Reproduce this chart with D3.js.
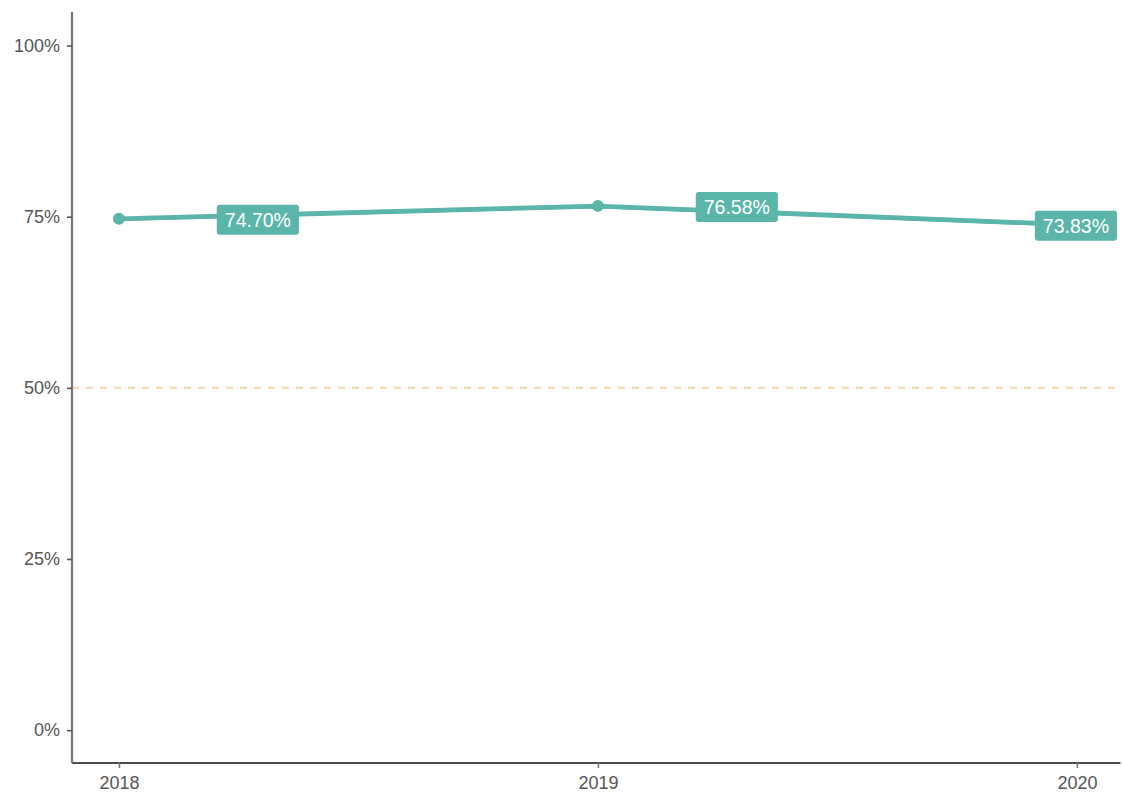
<!DOCTYPE html>
<html>
<head>
  <meta charset="utf-8">
  <title>Line chart</title>
  <script src="https://cdn.jsdelivr.net/npm/d3@7/dist/d3.min.js"></script>
  <style>
    body { margin: 0; background: #fff; }
    svg { display: block; font-family: "Liberation Sans", Arial, sans-serif; }
  </style>
</head>
<body>
  <svg width="1122" height="796"></svg>

  <script>
    // data
    const years = [2018, 2019, 2020];
    const rates = [0.7470, 0.7658, 0.7383];
    const yTicks = [0, 0.25, 0.5, 0.75, 1];
    const refLine = 0.5;

    const svg = d3.select("svg");
    const margin = { top: 12, right: 2, bottom: 33, left: 72 };
    const width = +svg.attr("width") - margin.left - margin.right;
    const height = +svg.attr("height") - margin.top - margin.bottom;
    const teal = "#5BB5A9";

    const g = svg.append("g")
      .attr("transform", `translate(${margin.left},${margin.top})`);

    const x = d3.scaleLinear()
      .domain([2017.902, 2020.090])
      .range([0, width]);

    const y = d3.scaleLinear()
      .domain([-0.048, 1.049])
      .range([height, 0]);

    const data = years.map((yr, i) => ({ year: yr, value: rates[i] }));

    // reference line at 50%
    g.append("line")
      .attr("x1", 0).attr("x2", width)
      .attr("y1", y(refLine)).attr("y2", y(refLine))
      .attr("stroke", "#EFD9A9")
      .attr("stroke-width", 2)
      .attr("stroke-dasharray", "7,7");

    // main line
    const line = d3.line()
      .x(d => x(d.year))
      .y(d => y(d.value));

    g.append("path")
      .datum(data)
      .attr("fill", "none")
      .attr("stroke", teal)
      .attr("stroke-width", 4.5)
      .attr("d", line);

    g.append("path")
      .datum(data)
      .attr("fill", "none")
      .attr("stroke", teal)
      .attr("stroke-width", 1.5)
      .attr("transform", "translate(0,1.8)")
      .attr("d", line);

    g.selectAll("circle.pt")
      .data(data)
      .enter().append("circle")
      .attr("class", "pt")
      .attr("cx", d => x(d.year))
      .attr("cy", d => y(d.value))
      .attr("r", 6)
      .attr("fill", teal);

    // labels, nudged right and kept inside the panel
    const fmt = d3.format(".2%");
    const nudge = 0.29;
    const labels = g.selectAll("g.lab")
      .data(data)
      .enter().append("g")
      .attr("class", "lab");

    labels.each(function (d) {
      const lg = d3.select(this);
      const txt = lg.append("text")
        .text(fmt(d.value))
        .attr("font-size", 19.5)
        .attr("fill", "#fff")
        .attr("text-anchor", "middle")
        .attr("dy", "0.36em");
      const w = txt.node().getComputedTextLength() + 16;
      const h = 30;
      let cx = x(d.year + nudge);
      cx = Math.min(cx, width - 3 - w / 2);
      const cy = y(d.value) + 1;
      lg.attr("transform", `translate(${cx},${cy})`);
      lg.insert("rect", "text")
        .attr("x", -w / 2).attr("y", -h / 2)
        .attr("width", w).attr("height", h)
        .attr("rx", 3)
        .attr("fill", teal);
    });

    // axes
    const xAxis = d3.axisBottom(x)
      .tickValues(years)
      .tickFormat(d3.format("d"))
      .tickSize(5)
      .tickPadding(8);

    const yAxis = d3.axisLeft(y)
      .tickValues(yTicks)
      .tickFormat(d3.format(".0%"))
      .tickSize(5)
      .tickPadding(7);

    const gx = g.append("g")
      .attr("transform", `translate(0,${height})`)
      .call(xAxis);
    gx.select(".domain").attr("stroke", "#111").attr("stroke-width", 1.6)
      .attr("d", `M0,0H${width + 0.5}`);
    gx.selectAll(".tick line").attr("stroke", "#777").attr("stroke-width", 1.6);
    gx.selectAll(".tick text").attr("fill", "#555").attr("font-size", 18)
      .attr("font-family", "Liberation Sans, Arial, sans-serif");

    const gy = g.append("g").call(yAxis);
    gy.select(".domain").attr("stroke", "#777").attr("stroke-width", 2.2)
      .attr("d", `M0,0V${height}`);
    gy.selectAll(".tick line").attr("stroke", "#555").attr("stroke-width", 1.6);
    gy.selectAll(".tick text").attr("fill", "#555").attr("font-size", 18)
      .attr("font-family", "Liberation Sans, Arial, sans-serif");
  </script>
</body>
</html>
